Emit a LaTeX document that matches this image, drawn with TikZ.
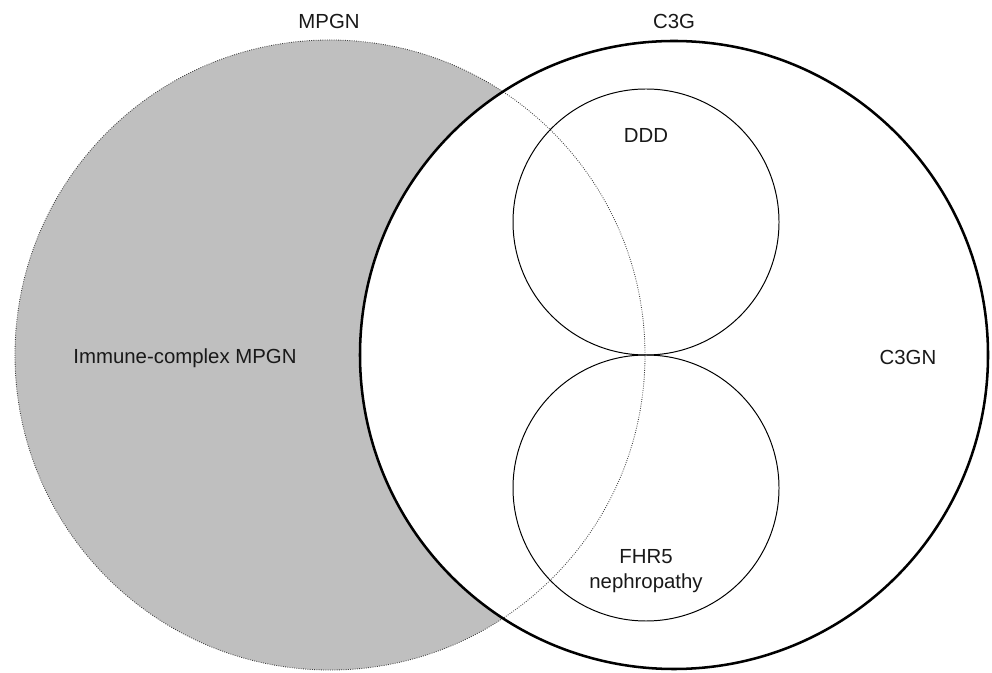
\documentclass[tikz,border=0pt]{standalone}
\usepackage{fontspec}
\setmainfont{Liberation Sans}
\usepackage{tikz}

\begin{document}
\begin{tikzpicture}[every node/.style={font=\fontsize{14.5}{17.8}\selectfont,align=center,inner sep=0pt,text=black!90}]
	\useasboundingbox (0,0) rectangle (24.8,16.8);
	\fill[white] (0,0) rectangle (24.8,16.8);

	\begin{scope}
	\coordinate (mpgnC) at (8.25,7.925);
	\coordinate (c3gC) at (16.85,7.925);

	\fill[black!25] (mpgnC) circle (7.875);
	\fill[white] (c3gC) circle (7.85);
	\draw[black!75,line width=0.6pt,densely dotted] (mpgnC) circle (7.875);
	\draw[line width=1.8pt] (c3gC) circle (7.85);
	\end{scope}

	\begin{scope}
	\newcommand\drawSub[2]{\draw[line width=0.7pt] (16.15,#1) circle (3.325) node (#2) {};}
	\drawSub{11.25}{ddd}
	\drawSub{4.6}{fhr}
	\end{scope}

	\node (mpgnLabel) at (8.225,16.275) {MPGN};
	\node (c3gLabel) at (16.85,16.275) {C3G};
	\node (dddLabel) at (16.15,13.425) {DDD};
	\node (icLabel) at (4.625,7.85) {Immune-complex MPGN};
	\node (c3gnLabel) at (22.7,7.875) {C3GN};
	\node (fhrLabel) at (16.15,2.525) {FHR5\\nephropathy};
\end{tikzpicture}
\end{document}
